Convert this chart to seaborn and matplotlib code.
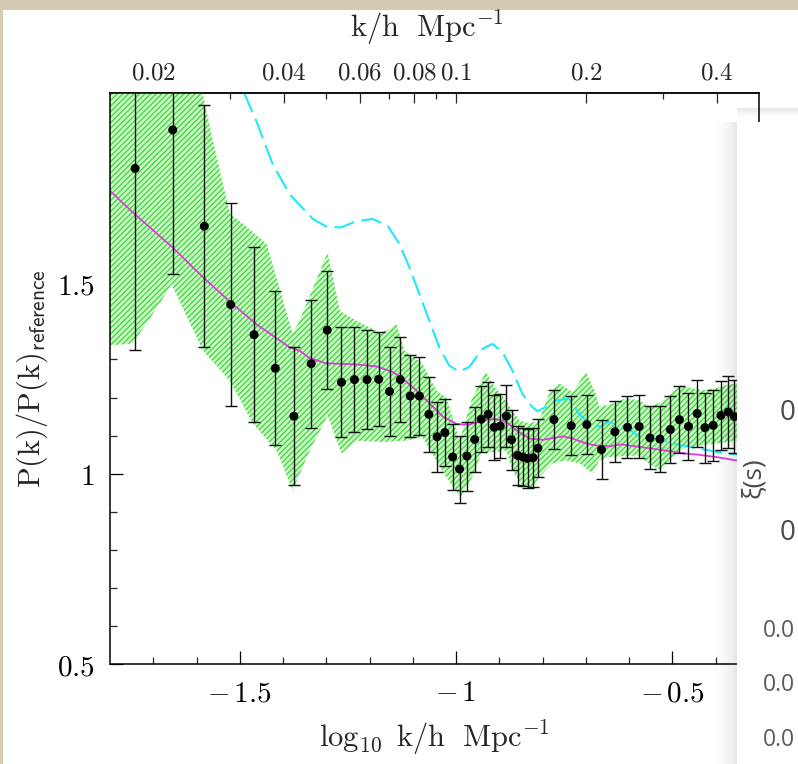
import numpy as np
import matplotlib
matplotlib.use("Agg")
import matplotlib.pyplot as plt
from matplotlib.patches import Rectangle
import seaborn as sns

# ---- measured power-spectrum ratio (log10 k, ratio, 1-sigma error) ----
log_k = [-1.742, -1.655, -1.582, -1.521, -1.467, -1.418, -1.375, -1.335, -1.298, -1.265,
         -1.235, -1.206, -1.179, -1.154, -1.129, -1.106, -1.085, -1.063, -1.044, -1.026,
         -1.008, -0.992, -0.975, -0.957, -0.942, -0.926, -0.912, -0.898, -0.884, -0.872,
         -0.858, -0.846, -0.835, -0.822, -0.811, -0.774, -0.734, -0.698, -0.664, -0.633,
         -0.604, -0.577, -0.552, -0.529, -0.505, -0.484, -0.463, -0.443, -0.425, -0.406,
         -0.388, -0.371, -0.357]
ratio = [1.802, 1.903, 1.650, 1.444, 1.365, 1.277, 1.151, 1.289, 1.377, 1.240,
         1.247, 1.247, 1.248, 1.216, 1.247, 1.204, 1.204, 1.156, 1.097, 1.108,
         1.044, 1.012, 1.046, 1.090, 1.143, 1.156, 1.122, 1.125, 1.151, 1.089,
         1.048, 1.044, 1.040, 1.042, 1.067, 1.142, 1.126, 1.129, 1.063, 1.110,
         1.122, 1.124, 1.094, 1.091, 1.116, 1.142, 1.124, 1.158, 1.121, 1.127,
         1.153, 1.162, 1.150]
ratio_err = [0.477, 0.378, 0.318, 0.266, 0.230, 0.203, 0.181, 0.168, 0.155, 0.144,
             0.137, 0.130, 0.123, 0.116, 0.112, 0.108, 0.102, 0.098, 0.092, 0.089,
             0.087, 0.088, 0.091, 0.086, 0.086, 0.085, 0.085, 0.085, 0.081, 0.079,
             0.077, 0.077, 0.077, 0.077, 0.077, 0.077, 0.078, 0.078, 0.078, 0.080,
             0.081, 0.082, 0.083, 0.086, 0.087, 0.089, 0.087, 0.089, 0.092, 0.093,
             0.091, 0.095, 0.095]

# ---- comparison band (upper and lower outline) ----
band_hi_x = [-1.80, -1.655, -1.59, -1.562, -1.523, -1.493, -1.438, -1.378, -1.362, -1.297,
             -1.269, -1.231, -1.177, -1.161, -1.138, -1.119, -1.078, -1.046, -1.023, -0.992,
             -0.962, -0.931, -0.911, -0.893, -0.873, -0.854, -0.831, -0.808, -0.785, -0.761,
             -0.731, -0.700, -0.677, -0.669, -0.635, -0.608, -0.577, -0.554, -0.527, -0.504,
             -0.481, -0.455, -0.431, -0.400, -0.377, -0.354, -0.30]
band_hi_y = [2.30, 2.28, 2.02, 1.874, 1.683, 1.657, 1.604, 1.368, 1.402, 1.581,
             1.428, 1.402, 1.371, 1.376, 1.393, 1.323, 1.289, 1.219, 1.201, 1.087,
             1.201, 1.267, 1.227, 1.205, 1.171, 1.140, 1.132, 1.140, 1.211, 1.237,
             1.214, 1.267, 1.210, 1.175, 1.185, 1.198, 1.193, 1.175, 1.188, 1.210,
             1.232, 1.224, 1.219, 1.224, 1.232, 1.237, 1.240]
band_lo_x = [-1.80, -1.747, -1.685, -1.658, -1.585, -1.523, -1.470, -1.415, -1.378, -1.338,
             -1.297, -1.265, -1.231, -1.170, -1.115, -1.078, -1.023, -0.990, -0.962, -0.942,
             -0.884, -0.870, -0.847, -0.824, -0.808, -0.778, -0.746, -0.715, -0.685, -0.669,
             -0.646, -0.577, -0.554, -0.527, -0.500, -0.469, -0.400, -0.354, -0.30]
band_lo_y = [1.337, 1.342, 1.447, 1.498, 1.323, 1.244, 1.132, 1.061, 0.956, 1.061,
             1.153, 1.053, 1.087, 1.083, 1.087, 1.096, 0.991, 0.939, 0.991, 1.053,
             1.061, 1.009, 0.969, 0.964, 0.991, 1.027, 1.035, 1.027, 1.001, 1.035,
             1.044, 1.048, 1.026, 1.009, 1.044, 1.070, 1.079, 1.087, 1.090]

# ---- smooth model ratio (magenta) ----
model_x = [-1.80, -1.747, -1.655, -1.585, -1.521, -1.462, -1.385, -1.362, -1.339, -1.301,
           -1.231, -1.185, -1.146, -1.123, -1.092, -1.061, -1.030, -0.999, -0.984, -0.969,
           -0.938, -0.911, -0.884, -0.861, -0.830, -0.799, -0.753, -0.730, -0.699, -0.676,
           -0.645, -0.618, -0.587, -0.549, -0.518, -0.472, -0.441, -0.395, -0.354, -0.30]
model_y = [1.743, 1.686, 1.594, 1.516, 1.450, 1.393, 1.332, 1.323, 1.304, 1.290,
           1.287, 1.282, 1.267, 1.249, 1.219, 1.184, 1.149, 1.131, 1.129, 1.129,
           1.140, 1.144, 1.136, 1.114, 1.092, 1.089, 1.098, 1.092, 1.079, 1.074,
           1.072, 1.077, 1.072, 1.066, 1.061, 1.053, 1.050, 1.043, 1.035, 1.030]

# ---- alternative model (cyan, dashed) ----
alt_x = [-1.490, -1.462, -1.424, -1.385, -1.331, -1.300, -1.266, -1.231, -1.193, -1.158,
         -1.131, -1.108, -1.085, -1.062, -1.039, -1.016, -0.993, -0.970, -0.939, -0.916,
         -0.893, -0.870, -0.847, -0.824, -0.812, -0.793, -0.770, -0.739, -0.716, -0.700,
         -0.677, -0.664, -0.649, -0.633, -0.605, -0.577, -0.554, -0.527, -0.508, -0.477,
         -0.446, -0.415, -0.385, -0.354, -0.30]
alt_y = [2.000, 1.927, 1.813, 1.734, 1.669, 1.649, 1.647, 1.663, 1.669, 1.651,
         1.603, 1.542, 1.472, 1.402, 1.332, 1.284, 1.268, 1.280, 1.328, 1.341,
         1.319, 1.271, 1.210, 1.175, 1.164, 1.175, 1.192, 1.197, 1.157, 1.140,
         1.127, 1.124, 1.136, 1.130, 1.122, 1.096, 1.092, 1.089, 1.083, 1.074,
         1.068, 1.061, 1.055, 1.051, 1.045]

# ---- axis ticks ----
x_major = [-1.5, -1.0, -0.5]
x_major_labels = [r"$-\,1.5$", r"$-\,1$", r"$-\,0.5$"]
y_major = [0.5, 1.0, 1.5]
y_major_labels = [r"$0.5$", r"$1$", r"$1.5$"]
top_k_major = [0.02, 0.04, 0.06, 0.08, 0.1, 0.2, 0.4]
top_k_labels = [r"$0.02$", r"$0.04$", r"$0.06$", r"$0.08$", r"$0.1$", r"$0.2$", r"$0.4$"]
top_k_minor = [0.03, 0.05, 0.07, 0.09, 0.3]

# ---- style ----
sns.set_theme(style="ticks")
plt.rcParams.update({
    "mathtext.fontset": "cm",
    "font.family": ["DejaVu Serif"],
    "hatch.linewidth": 1.0,
    "axes.linewidth": 1.1,
})

W, H = 798, 764
fig = plt.figure(figsize=(W / 100, H / 100), dpi=100, facecolor="#d5cbb2")
fig.patches.append(Rectangle((3 / W, 0), 1, 754 / H, transform=fig.transFigure,
                             facecolor="white", edgecolor="none", zorder=-5))

ax = fig.add_axes([110 / W, 1 - 664 / H, 649 / W, 571 / H])
ax.set_facecolor("white")

# shaded comparison band
poly_x = band_hi_x + band_lo_x[::-1]
poly_y = band_hi_y + band_lo_y[::-1]
ax.fill(poly_x, poly_y, facecolor="#d2f8cb", edgecolor="none", zorder=1)
ax.fill(poly_x, poly_y, facecolor="none", edgecolor="#3fdc3f", hatch="//////",
        linewidth=0, zorder=1.2)

# model curves
sns.lineplot(x=model_x, y=model_y, color="#dd3ddd", linewidth=1.3, ax=ax,
             zorder=2, errorbar=None)
sns.lineplot(x=alt_x, y=alt_y, color="#1fe8f8", linewidth=1.5, ax=ax,
             zorder=2, errorbar=None, linestyle=(0, (10, 3.5)))

# measurements
ax.errorbar(log_k, ratio, yerr=ratio_err, fmt="none", ecolor="#111111",
            elinewidth=1.0, capsize=4, capthick=1.0, zorder=3)
sns.scatterplot(x=log_k, y=ratio, color="black", s=42, edgecolor="none",
                ax=ax, zorder=4)

ax.set_xlim(-1.8, -0.3)
ax.set_ylim(0.5, 2.0)

ax.set_xticks(x_major, x_major_labels)
ax.set_xticks(np.arange(-1.7, -0.3, 0.1), minor=True)
ax.set_yticks(y_major, y_major_labels)
ax.set_yticks(np.arange(0.6, 2.0, 0.1), minor=True)
ax.tick_params(axis="both", which="major", direction="in", length=9.5, width=0.9,
               labelsize=21, colors="black", pad=11)
ax.tick_params(axis="both", which="minor", direction="in", length=5, width=0.9)
ax.tick_params(axis="x", which="both", top=False)
ax.tick_params(axis="y", which="both", right=False)
for s in ax.spines.values():
    s.set_color("black")
    s.set_visible(True)

ax.set_xlabel(r"$\log_{10}\ \mathrm{k/h\ \ Mpc^{-1}}$", fontsize=22)
ax.xaxis.set_label_coords(0.5, -0.095)
ax.xaxis.label.set_va("top")
ax.set_ylabel(r"$\mathrm{P(k)/P(k)}_{\mathsf{reference}}$", fontsize=22)
ax.yaxis.set_label_coords(-0.092, 0.5)

# top axis in k
sec = ax.secondary_xaxis("top")
sec.set_xticks(np.log10(top_k_major), top_k_labels)
sec.set_xticks(np.log10(top_k_minor), minor=True)
sec.tick_params(which="major", direction="in", length=7, width=0.9, labelsize=18, pad=6)
sec.tick_params(which="minor", direction="in", length=4.5, width=0.9)
fig.text(427 / W, 1 - 28 / H, r"$\mathrm{k/h\ \ Mpc^{-1}}$", fontsize=22,
         ha="center", va="center")

# soft shadow around the panel lying on top
ramp = np.linspace(0.0, 1.0, 64) ** 2 * 0.10
shadow = fig.add_axes([710 / W, 0, 27 / W, (764 - 122) / H], zorder=5)
grad = np.zeros((2, 64, 4))
grad[..., 3] = ramp
shadow.imshow(grad, aspect="auto", extent=(0, 1, 0, 1), interpolation="bilinear")
shadow.set_axis_off()
shadow_top = fig.add_axes([737 / W, 1 - 122 / H, 61 / W, 14 / H], zorder=5)
gtop = np.zeros((64, 2, 4))
gtop[..., 3] = ramp[::-1][:, None]
shadow_top.imshow(gtop, aspect="auto", extent=(0, 1, 0, 1), origin="upper",
                  interpolation="bilinear")
shadow_top.set_axis_off()

# panel on top (part of another chart)
over = fig.add_axes([737 / W, 0, 61 / W, (764 - 122) / H], zorder=6)
over.set_facecolor("white")
over.set_xticks([])
over.set_yticks([])
for s in over.spines.values():
    s.set_visible(False)
over.set_xlim(737, 798)
over.set_ylim(764, 122)
side_font = ["Open Sans", "DejaVu Sans"]
for yy in (413, 533):
    over.text(780, yy, "0", fontsize=20, color="#4a4a4a", ha="left", va="center",
              family=side_font, clip_on=True)
for yy in (631, 685, 740):
    over.text(763, yy, "0.0", fontsize=16.5, color="#5a5a5a", ha="left", va="center",
              family=side_font, clip_on=True)
over.text(753, 478, r"ξ(s)", fontsize=19, color="#4a4a4a", rotation=90,
          ha="center", va="center", family=side_font, clip_on=True)

fig.savefig("out.png", dpi=100, facecolor=fig.get_facecolor())
